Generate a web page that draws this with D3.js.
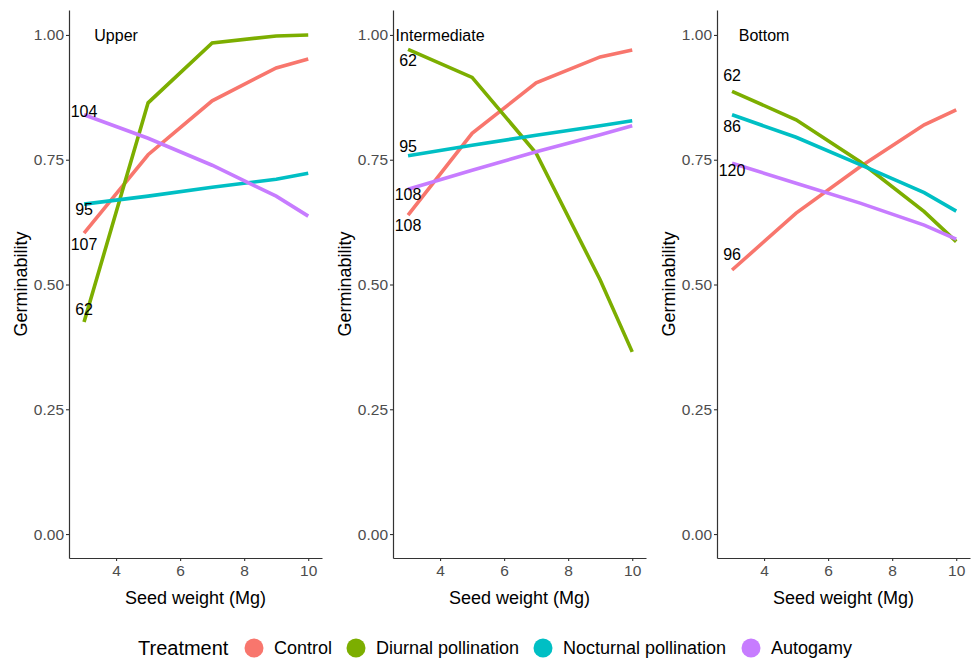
<!DOCTYPE html>
<html>
<head>
<meta charset="utf-8">
<script src="https://cdn.jsdelivr.net/npm/d3@7"></script>
<style>
  body { margin: 0; background: #fff; }
  text { font-family: "Liberation Sans", Arial, sans-serif; }
</style>
</head>
<body>
<div id="chart"></div>
<script>
// panels and series
var panels = ["Upper", "Intermediate", "Bottom"];
var treatments = ["Control", "Diurnal pollination", "Nocturnal pollination", "Autogamy"];
var treatColors = ["#F8766D", "#7CAE00", "#00BFC4", "#C77CFF"];
var seedWeight = [3, 5, 7, 9, 10];

// germinability per treatment, Upper
var upperControl   = [0.603, 0.760, 0.868, 0.934, 0.952];
var upperDiurnal   = [0.425, 0.864, 0.984, 0.998, 1.000];
var upperNocturnal = [0.661, 0.677, 0.695, 0.711, 0.723];
var upperAutogamy  = [0.840, 0.793, 0.739, 0.677, 0.637];
// Intermediate
var interControl   = [0.639, 0.803, 0.904, 0.956, 0.970];
var interDiurnal   = [0.971, 0.915, 0.763, 0.509, 0.365];
var interNocturnal = [0.758, 0.779, 0.799, 0.818, 0.828];
var interAutogamy  = [0.691, 0.729, 0.766, 0.800, 0.818];
// Bottom
var bottomControl   = [0.529, 0.643, 0.736, 0.820, 0.850];
var bottomDiurnal   = [0.887, 0.830, 0.746, 0.646, 0.586];
var bottomNocturnal = [0.840, 0.795, 0.740, 0.684, 0.647];
var bottomAutogamy  = [0.743, 0.703, 0.663, 0.619, 0.591];

// sample size labels (Control, Diurnal, Nocturnal, Autogamy) and their heights
var upperN  = [107, 62, 95, 104];
var upperNy = [0.581, 0.451, 0.651, 0.848];
var interN  = [108, 62, 95, 108];
var interNy = [0.619, 0.950, 0.778, 0.681];
var bottomN  = [96, 62, 86, 120];
var bottomNy = [0.560, 0.920, 0.818, 0.728];

var yTicks = [0, 0.25, 0.5, 0.75, 1];
var xTicks = [4, 6, 8, 10];

var panelSeries = [
  [upperControl, upperDiurnal, upperNocturnal, upperAutogamy],
  [interControl, interDiurnal, interNocturnal, interAutogamy],
  [bottomControl, bottomDiurnal, bottomNocturnal, bottomAutogamy]
];
var panelN = [upperN, interN, bottomN];
var panelNy = [upperNy, interNy, bottomNy];

var cfg = {
  width: 974, height: 660,
  panelLeft: 69, panelStep: 324, panelW: 253,
  top: 10, bottom: 558
};

var svg = d3.select("#chart").append("svg")
  .attr("width", cfg.width)
  .attr("height", cfg.height);

var x = d3.scaleLinear().domain([2.53, 10.43]).range([0, cfg.panelW]);
var y = d3.scaleLinear().domain([-0.048, 1.05]).range([cfg.bottom, cfg.top]);

var line = d3.line()
  .x(function(d) { return x(d[0]); })
  .y(function(d) { return y(d[1]); });

panels.forEach(function(name, p) {
  var g = svg.append("g")
    .attr("transform", "translate(" + (cfg.panelLeft + p * cfg.panelStep) + ",0)");

  // lines
  panelSeries[p].forEach(function(vals, i) {
    g.append("path")
      .datum(seedWeight.map(function(w, k) { return [w, vals[k]]; }))
      .attr("d", line)
      .attr("fill", "none")
      .attr("stroke", treatColors[i])
      .attr("stroke-width", 3.6);
  });

  // n labels
  g.selectAll(".nlab")
    .data(panelN[p])
    .enter().append("text")
    .attr("class", "nlab")
    .attr("x", x(3))
    .attr("y", function(d, i) { return y(panelNy[p][i]); })
    .attr("dy", "0.36em")
    .attr("text-anchor", "middle")
    .style("font-size", "16px")
    .attr("fill", "#000")
    .text(function(d) { return d; });

  // panel title
  g.append("text")
    .attr("x", x(4))
    .attr("y", y(1))
    .attr("dy", "0.36em")
    .attr("text-anchor", "middle")
    .style("font-size", "16px")
    .attr("fill", "#000")
    .text(name);

  // axes
  var yAxis = d3.axisLeft(y).tickValues(yTicks).tickFormat(d3.format(".2f")).tickSize(3).tickSizeOuter(0);
  var xAxis = d3.axisBottom(x).tickValues(xTicks).tickSize(3).tickSizeOuter(0);

  var gy = g.append("g").call(yAxis);
  var gx = g.append("g").attr("transform", "translate(0," + cfg.bottom + ")").call(xAxis);

  [gx, gy].forEach(function(ax) {
    ax.select(".domain").attr("stroke", "#333").attr("stroke-width", 1.2);
    ax.selectAll(".tick line").attr("stroke", "#333").attr("stroke-width", 1.1);
    ax.selectAll(".tick text")
      .attr("fill", "#4D4D4D")
      .style("font-size", "15.5px")
      .style("font-family", "'Liberation Sans', Arial, sans-serif");
  });
  gy.selectAll(".tick text").attr("x", -5);
  gx.selectAll(".tick text").attr("y", 7);

  // axis titles
  g.append("text")
    .attr("x", cfg.panelW / 2)
    .attr("y", 598)
    .attr("dy", "0.36em")
    .attr("text-anchor", "middle")
    .style("font-size", "18px")
    .text("Seed weight (Mg)");

  g.append("text")
    .attr("transform", "translate(-48," + ((cfg.top + cfg.bottom) / 2) + ") rotate(-90)")
    .attr("dy", "0.36em")
    .attr("text-anchor", "middle")
    .style("font-size", "18px")
    .text("Germinability");
});

// legend
var legend = svg.append("g").attr("transform", "translate(0,648)");
legend.append("text")
  .attr("x", 138)
  .attr("dy", "0.36em")
  .style("font-size", "20px")
  .text("Treatment");

var legendX = [254, 356, 543, 751];
var items = legend.selectAll(".item")
  .data(treatments)
  .enter().append("g")
  .attr("class", "item")
  .attr("transform", function(d, i) { return "translate(" + legendX[i] + ",0)"; });

items.append("circle")
  .attr("r", 9.5)
  .attr("fill", function(d, i) { return treatColors[i]; });

items.append("text")
  .attr("x", 20)
  .attr("dy", "0.36em")
  .style("font-size", "18px")
  .text(function(d) { return d; });
</script>
</body>
</html>
